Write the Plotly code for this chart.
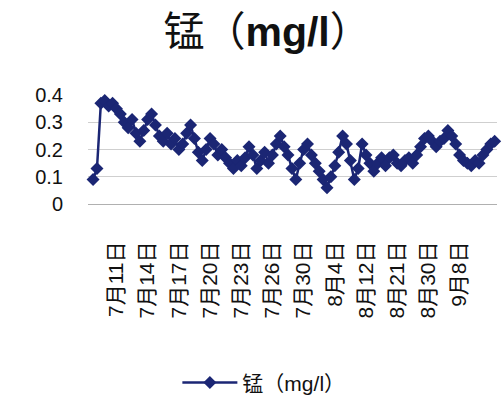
import plotly.graph_objects as go

# Manganese readings (mg/l), one per sample, in order
mn_values = [0.09, 0.13, 0.37, 0.38, 0.36, 0.37, 0.35, 0.33, 0.30, 0.28,
             0.31, 0.26, 0.23, 0.27, 0.31, 0.33, 0.29, 0.25, 0.23, 0.26,
             0.22, 0.24, 0.20, 0.22, 0.26, 0.29, 0.24, 0.19, 0.16, 0.20,
             0.24, 0.22, 0.18, 0.20, 0.17, 0.15, 0.13, 0.16, 0.14, 0.17,
             0.21, 0.18, 0.13, 0.16, 0.19, 0.15, 0.18, 0.22, 0.25, 0.21,
             0.18, 0.13, 0.09, 0.15, 0.20, 0.22, 0.18, 0.15, 0.12, 0.09,
             0.06, 0.10, 0.14, 0.19, 0.25, 0.22, 0.16, 0.09, 0.13, 0.22,
             0.18, 0.15, 0.12, 0.15, 0.17, 0.14, 0.17, 0.18, 0.15, 0.14,
             0.16, 0.17, 0.15, 0.18, 0.21, 0.24, 0.25, 0.23, 0.21, 0.23,
             0.24, 0.27, 0.25, 0.22, 0.18, 0.16, 0.15, 0.14, 0.16, 0.15,
             0.18, 0.20, 0.22, 0.23]
sample_index = list(range(len(mn_values)))

# Category labels shown on the axis and the sample they sit under
tick_index = [6, 14, 22, 30, 38, 46, 54, 62, 70, 78, 86, 94]
tick_labels = ["7月11日", "7月14日", "7月17日", "7月20日", "7月23日", "7月26日",
               "7月30日", "8月4日", "8月12日", "8月21日", "8月30日", "9月8日"]

y_ticks = [0, 0.1, 0.2, 0.3, 0.4]
y_tick_text = ["0", "0.1", "0.2", "0.3", "0.4"]

series_name = "锰（mg/l）"
navy = "#1b2674"
font_family = "Liberation Sans, Arial, Noto Sans CJK SC, sans-serif"

fig = go.Figure()
fig.add_trace(go.Scatter(
    x=sample_index, y=mn_values, mode="lines+markers", name=series_name,
    line=dict(color=navy, width=2.5),
    marker=dict(symbol="diamond", size=10, color=navy),
    cliponaxis=False,
))

fig.update_layout(
    width=504, height=398,
    margin=dict(l=88, r=7, t=95, b=194, autoexpand=False),
    paper_bgcolor="white", plot_bgcolor="white",
    font=dict(family=font_family, color="#111111"),
    title=dict(text="锰（<b>mg/l</b>）", x=0.53, xanchor="center",
               y=0.92, yanchor="middle",
               font=dict(size=41, family=font_family, color="#111111")),
    showlegend=True,
    legend=dict(orientation="h", x=0.43, xanchor="center",
                yref="container", y=0.038, yanchor="middle",
                font=dict(size=21, family=font_family),
                bgcolor="rgba(0,0,0,0)", itemwidth=55),
)

fig.update_xaxes(
    range=[-1.3, 103.6], tickmode="array", tickvals=tick_index,
    ticktext=tick_labels, tickangle=-90, tickfont=dict(size=21),
    ticklabelstandoff=28, showgrid=False, zeroline=False, automargin=False,
    showline=True, linecolor="#b0b0b0", linewidth=1.2, ticks="",
)
fig.update_yaxes(
    range=[0, 0.4], tickmode="array", tickvals=y_ticks, ticktext=y_tick_text,
    tickfont=dict(size=20), ticklabelstandoff=24, automargin=False,
    showgrid=True, gridcolor="#cfcfcf", gridwidth=1.2,
    zeroline=False, showline=False, ticks="",
)

fig.write_html("out.html")
